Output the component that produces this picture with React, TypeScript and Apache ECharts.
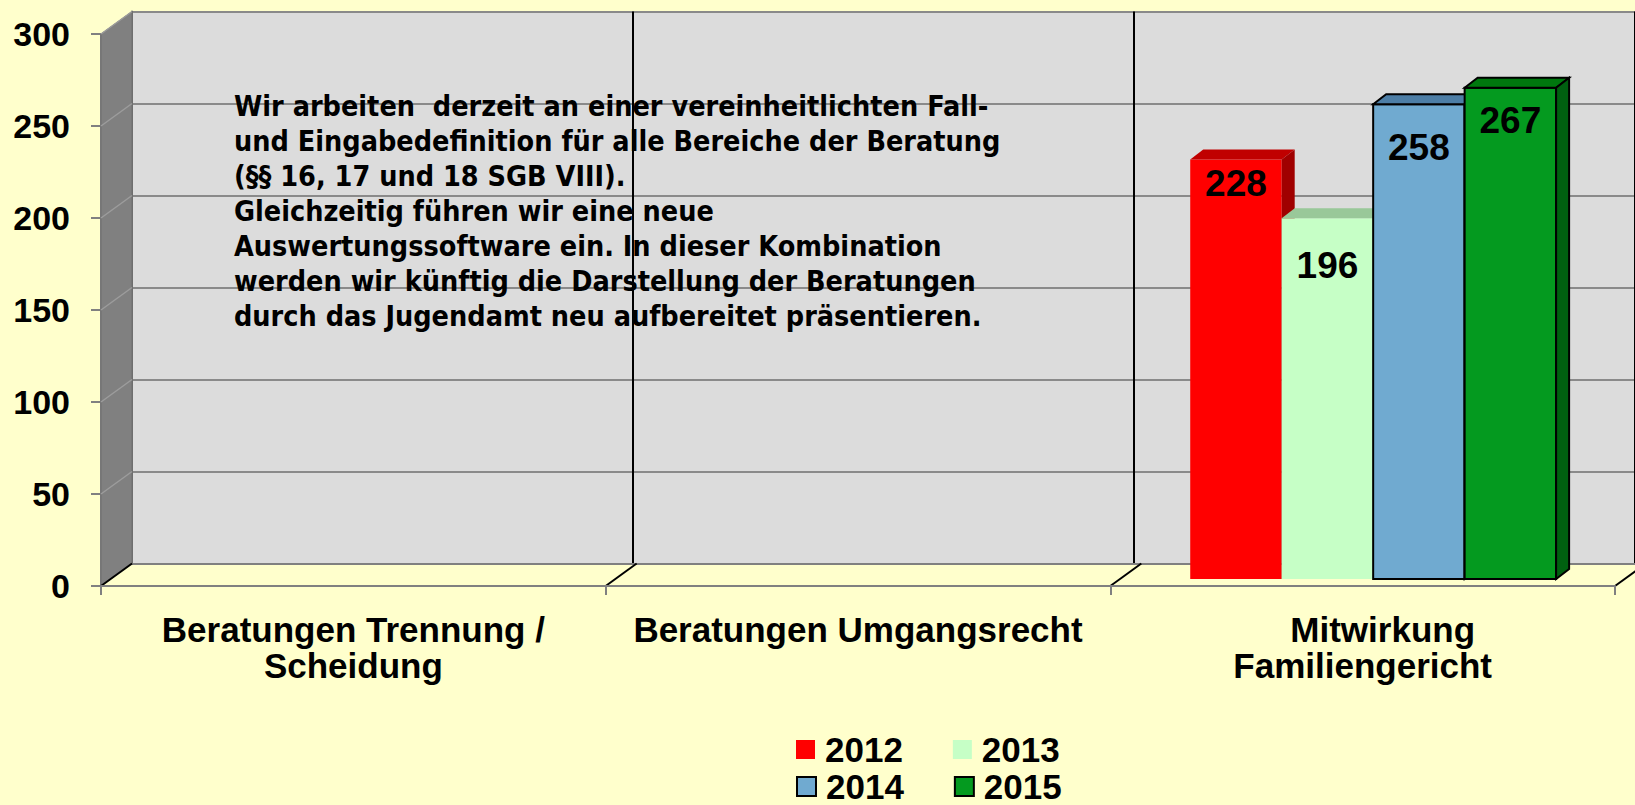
import React, { useEffect, useRef } from "react";
import * as echarts from "echarts";

// ---------- data ----------
const categories = [
  "Beratungen Trennung /\nScheidung",
  "Beratungen Umgangsrecht",
  "Mitwirkung\nFamiliengericht",
];
const seriesNames = ["2012", "2013", "2014", "2015"];
const values2012: (number | null)[] = [null, null, 228];
const values2013: (number | null)[] = [null, null, 196];
const values2014: (number | null)[] = [null, null, 258];
const values2015: (number | null)[] = [null, null, 267];
const yMin = 0;
const yMax = 300;
const yInterval = 50;
const noteLines = [
  "Wir arbeiten  derzeit an einer vereinheitlichten Fall-",
  "und Eingabedefinition für alle Bereiche der Beratung",
  "(§§ 16, 17 und 18 SGB VIII).",
  "Gleichzeitig führen wir eine neue",
  "Auswertungssoftware ein. In dieser Kombination",
  "werden wir künftig die Darstellung der Beratungen",
  "durch das Jugendamt neu aufbereitet präsentieren.",
];

// ---------- styles ----------
const BG = "#FFFFCC";
const WALL = "#DCDCDC";
const SIDE_WALL = "#808080";
const GRID_LINE = "#8A8A8A";
const FONT = '"Liberation Sans", Arial, sans-serif';
const NOTE_FONT = '"DejaVu Sans Condensed", "DejaVu Sans", sans-serif';

const barStyles = [
  { face: "#FF0000", top: "#C00000", side: "#A00000", border: null as string | null },
  { face: "#C6FFC6", top: "#99C899", side: "#80B080", border: null as string | null },
  { face: "#70AAD0", top: "#4D7EA6", side: "#3C6A8E", border: "#000000" },
  { face: "#049A1F", top: "#00780E", side: "#006010", border: "#000000" },
];
const labelOffsets = [24, 47, 43, 33];

// layout (pixels)
const FRONT = { left: 101, right: 20, top: 34, bottom: 219 };
const WALL_DX = 31;
const WALL_DY = -22.5;
const BAR_DX = 10.5;
const BAR_DY = -7;
const DEPTH_DX = 13;
const DEPTH_DY = -10;
const GROUP_RATIO = 0.725;

const allValues = [values2012, values2013, values2014, values2015];

export default function App() {
  const ref = useRef<HTMLDivElement>(null);

  useEffect(() => {
    if (!ref.current) return;
    const chart = echarts.init(ref.current, undefined, { renderer: "svg" });

    const makeRender = (s: number) => (params: any, api: any) => {
      const cat = api.value(0);
      const v = api.value(1);
      if (v == null || isNaN(v)) return null;
      const base = api.coord([cat, 0]);
      const topPt = api.coord([cat, v]);
      const band = api.size([1, 0])[0];
      const groupW = band * GROUP_RATIO;
      const barW = groupW / 4;
      const x0 = base[0] + BAR_DX - groupW / 2 + s * barW;
      const x1 = x0 + barW;
      const yT = topPt[1] + BAR_DY;
      const yB = base[1] + BAR_DY;
      const st = barStyles[s];
      const stroke = st.border
        ? { stroke: st.border, lineWidth: 2 }
        : { stroke: null, lineWidth: 0 };
      return {
        type: "group",
        children: [
          {
            type: "rect",
            shape: { x: x0, y: yT, width: barW, height: yB - yT },
            style: { fill: st.face, ...stroke },
          },
          {
            type: "polygon",
            shape: {
              points: [
                [x0, yT],
                [x0 + DEPTH_DX, yT + DEPTH_DY],
                [x1 + DEPTH_DX, yT + DEPTH_DY],
                [x1, yT],
              ],
            },
            style: { fill: st.top, ...stroke },
          },
          {
            type: "polygon",
            shape: {
              points: [
                [x1, yT],
                [x1 + DEPTH_DX, yT + DEPTH_DY],
                [x1 + DEPTH_DX, yB + DEPTH_DY],
                [x1, yB],
              ],
            },
            style: { fill: st.side, ...stroke },
          },
          {
            type: "text",
            x: (x0 + x1) / 2,
            y: yT + labelOffsets[s],
            style: {
              text: String(v),
              fill: "#000",
              font: `bold 37px ${FONT}`,
              textAlign: "center",
              textVerticalAlign: "middle",
            },
          },
        ],
      };
    };

    const series = seriesNames.map((name, s) => ({
      type: "custom",
      name,
      xAxisIndex: 0,
      yAxisIndex: 0,
      z: 3,
      encode: { x: 0, y: 1 },
      itemStyle: {
        color: barStyles[s].face,
        borderColor: barStyles[s].border || barStyles[s].face,
        borderWidth: barStyles[s].border ? 2 : 0,
      },
      renderItem: makeRender(s),
      data: allValues[s].flatMap((v, i) => (v == null ? [] : [[i, v]])),
    }));

    const legendItem = (s: number) => ({
      name: seriesNames[s],
      itemStyle: {
        color: barStyles[s].face,
        borderColor: barStyles[s].border || barStyles[s].face,
        borderWidth: barStyles[s].border ? 2 : 0,
      },
    });
    const legendCommon = {
      left: 796,
      padding: 0,
      icon: "rect",
      itemWidth: 19,
      itemHeight: 19,
      itemGap: 50,
      selectedMode: false,
      textStyle: {
        fontFamily: FONT,
        fontSize: 35,
        fontWeight: "bold",
        color: "#000",
        padding: [0, 0, 0, 5],
      },
    };

    const labelFont = {
      fontFamily: FONT,
      fontSize: 35,
      fontWeight: "bold",
      color: "#000",
      lineHeight: 36,
    };

    chart.setOption({
      animation: false,
      backgroundColor: BG,
      legend: [
        { ...legendCommon, top: 732, data: [legendItem(0), legendItem(1)] },
        { ...legendCommon, top: 769, data: [legendItem(2), legendItem(3)] },
      ],
      grid: [
        { ...FRONT, containLabel: false },
        {
          left: FRONT.left + WALL_DX,
          right: FRONT.right - WALL_DX,
          top: FRONT.top + WALL_DY,
          bottom: FRONT.bottom - WALL_DY,
          show: true,
          backgroundColor: WALL,
          borderWidth: 0,
          containLabel: false,
        },
      ],
      xAxis: [
        {
          type: "category",
          gridIndex: 0,
          data: categories,
          boundaryGap: true,
          axisLine: { show: true, lineStyle: { color: "#808080", width: 2 } },
          axisTick: { show: true, length: 9, interval: 0, lineStyle: { color: "#808080", width: 2 } },
          axisLabel: {
            interval: 0,
            margin: 25,
            align: "center",
            ...labelFont,
            formatter: (val: string) => {
              const parts = val.split("\n");
              if (parts[0] === "Mitwirkung") {
                return `{shift|${parts[0]}}\n{plain|${parts[1]}}`;
              }
              return parts.map((p) => `{plain|${p}}`).join("\n");
            },
            rich: {
              plain: { ...labelFont },
              shift: { ...labelFont, padding: [0, 0, 0, 40] },
            },
          },
          splitLine: { show: false },
          z: 4,
        },
        {
          type: "category",
          gridIndex: 1,
          data: categories,
          boundaryGap: true,
          axisLine: { show: true, lineStyle: { color: "#808080", width: 2 } },
          axisTick: { show: false },
          axisLabel: { show: false },
          splitLine: { show: true, interval: 0, lineStyle: { color: "#000", width: 2 } },
        },
      ],
      yAxis: [
        {
          type: "value",
          gridIndex: 0,
          min: yMin,
          max: yMax,
          interval: yInterval,
          axisLine: { show: true, lineStyle: { color: "#808080", width: 2 } },
          axisTick: { show: true, length: 10, lineStyle: { color: "#808080", width: 2 } },
          axisLabel: {
            margin: 31,
            color: "#000",
            fontFamily: FONT,
            fontSize: 34,
            fontWeight: "bold",
          },
          splitLine: { show: false },
        },
        {
          type: "value",
          gridIndex: 1,
          min: yMin,
          max: yMax,
          interval: yInterval,
          axisLine: { show: true, lineStyle: { color: "#6E6E6E", width: 2 } },
          axisTick: { show: false },
          axisLabel: { show: false },
          splitLine: { show: true, lineStyle: { color: GRID_LINE, width: 2 } },
        },
      ],
      series,
    });

    // decorations derived from the axes (side wall, floor edges, note)
    const ticks: number[] = [];
    for (let v = yMin; v <= yMax; v += yInterval) ticks.push(v);
    const c0 = chart.convertToPixel({ xAxisIndex: 0 }, 0) as number;
    const c1 = chart.convertToPixel({ xAxisIndex: 0 }, 1) as number;
    const band = c1 - c0;
    const frontLeft = c0 - band / 2;
    const yF = (v: number) => chart.convertToPixel({ yAxisIndex: 0 }, v) as number;
    const yBk = (v: number) => chart.convertToPixel({ yAxisIndex: 1 }, v) as number;

    const elements: any[] = [];
    elements.push({
      type: "polygon",
      z: 1,
      z2: 0,
      shape: {
        points: [
          [frontLeft, yF(yMax)],
          [frontLeft + WALL_DX, yBk(yMax)],
          [frontLeft + WALL_DX, yBk(yMin)],
          [frontLeft, yF(yMin)],
        ],
      },
      style: { fill: SIDE_WALL, stroke: "#6E6E6E", lineWidth: 1 },
    });
    ticks.forEach((v) => {
      if (v === yMin) return;
      elements.push({
        type: "line",
        z: 1,
        z2: 1,
        shape: { x1: frontLeft, y1: yF(v), x2: frontLeft + WALL_DX, y2: yBk(v) },
        style: { stroke: "#9C9C9C", lineWidth: 1.5 },
      });
    });
    for (let i = 0; i <= categories.length; i++) {
      const xf = frontLeft + i * band;
      elements.push({
        type: "line",
        z: 1,
        z2: 2,
        shape: { x1: xf, y1: yF(yMin), x2: xf + WALL_DX, y2: yBk(yMin) },
        style: { stroke: "#000", lineWidth: 2 },
      });
    }
    elements.push({
      type: "text",
      z: 5,
      left: 234,
      top: 89,
      style: {
        text: noteLines.join("\n"),
        font: `bold 28.5px ${NOTE_FONT}`,
        lineHeight: 35,
        fill: "#000",
      },
    });
    chart.setOption({ graphic: { elements } });

    return () => chart.dispose();
  }, []);

  return (
    <div
      ref={ref}
      style={{ position: "fixed", left: 0, top: 0, width: 1635, height: 805 }}
    />
  );
}
